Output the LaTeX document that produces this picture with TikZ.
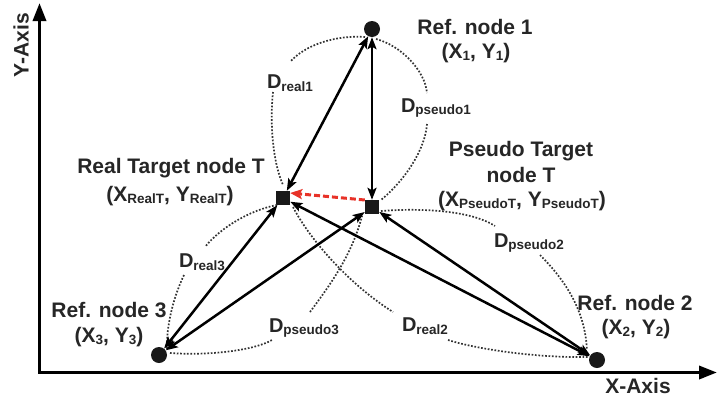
\documentclass[tikz,border=0pt]{standalone}
\usepackage{fontspec}
\setmainfont{Liberation Sans}
\usetikzlibrary{arrows.meta}
\newcommand\lowsub[1]{\raisebox{-2.5pt}{\fontsize{13.5}{14}\selectfont #1}}
\definecolor{arrowred}{RGB}{232,50,40}
\begin{document}
\begin{tikzpicture}[x=1pt,y=-1pt,
 txt/.style={font=\fontsize{21}{24}\selectfont\bfseries, text=black!85, inner sep=0pt, align=center},
 dlab/.style={font=\fontsize{20}{24}\selectfont\bfseries, text=black!85, inner sep=0pt},
 axis/.style={line width=3.5pt, line join=miter, {Triangle[length=18pt,width=13pt]}-{Triangle[length=18pt,width=13pt]}},
 dist/.style={line width=2.5pt, {Stealth[length=12pt,width=9pt,inset=2.5pt]}-{Stealth[length=12pt,width=9pt,inset=2.5pt]}},
 arcd/.style={dash pattern=on 1.7pt off 1.7pt, line width=1.7pt, black!80},
 refdot/.style={circle, fill=black!90, minimum size=16pt, inner sep=0pt},
 tgt/.style={rectangle, fill=black!90, minimum size=14pt, inner sep=0pt},
 pseudoarrow/.style={arrowred, line width=3pt, dash pattern=on 6pt off 3pt, -{Stealth[length=12pt,width=10pt,inset=2.5pt]}},
]
\useasboundingbox (0,0) rectangle (718,397);
\fill[white] (0,0) rectangle (718,397);

% axes
\coordinate (ytop) at (39.5,3);
\coordinate (O) at (39.5,372.5);
\coordinate (xend) at (717,372.5);
\draw[axis] (ytop) -- (O) -- (xend);
\node[txt, rotate=90] (ylab) at (21,45) {Y-Axis};
\node[txt] (xlab) at (638,386) {X-Axis};

% nodes
\node[refdot] (r1) at (372,29) {};
\node[refdot] (r2) at (597,360) {};
\node[refdot] (r3) at (159,355) {};
\node[tgt] (rt) at (283,198) {};
\node[tgt] (pt) at (372,207) {};

% dotted arcs
\draw[arcd] (365,37) .. controls (335,35) and (305,45) .. (290,62);
\draw[arcd] (273,92) .. controls (270,120) and (272,160) .. (283,185);
\draw[arcd] (376,39) .. controls (400,45) and (425,70) .. (427,93);
\draw[arcd] (427,124) .. controls (425,150) and (405,180) .. (381,200);
\draw[arcd] (277,205) .. controls (250,210) and (220,228) .. (205,247);
\draw[arcd] (184,275) .. controls (172,300) and (166,330) .. (167,350);
\draw[arcd] (170,353) .. controls (210,356) and (255,350) .. (272,340);
\draw[arcd] (310,312) .. controls (330,285) and (352,255) .. (362,216);
\draw[arcd] (381,211) .. controls (420,208) and (470,210) .. (495,226);
\draw[arcd] (540,255) .. controls (565,280) and (585,310) .. (587,350);
\draw[arcd] (293,207) .. controls (310,240) and (350,285) .. (393,312);
\draw[arcd] (448,340) .. controls (480,350) and (540,358) .. (588,357);

% distance arrows
\draw[dist] (r1) -- (rt);
\draw[dist] (r1) -- (pt);
\draw[dist] (r3) -- (rt);
\draw[dist] (r3) -- (pt);
\draw[dist] (r2) -- (rt);
\draw[dist] (r2) -- (pt);

% pseudo -> real
\draw[pseudoarrow] ([yshift=7pt]pt.west) -- ([yshift=5pt]rt.east);

% distance labels
\node[dlab] (d1) at (290,83) {D\lowsub{real1}};
\node[dlab] (d2) at (436,108) {D\lowsub{pseudo1}};
\node[dlab] (d3) at (202,262) {D\lowsub{real3}};
\node[dlab] (d4) at (304,328) {D\lowsub{pseudo3}};
\node[dlab] (d5) at (529,243) {D\lowsub{pseudo2}};
\node[dlab] (d6) at (425,326) {D\lowsub{real2}};

% node labels
\node[txt] (l1a) at (475,27) {Ref. node 1};
\node[txt] (l1b) at (476,53) {(X\lowsub{1}, Y\lowsub{1})};
\node[txt] (l2a) at (635,303) {Ref. node 2};
\node[txt] (l2b) at (636,329) {(X\lowsub{2}, Y\lowsub{2})};
\node[txt] (l3a) at (109,310) {Ref. node 3};
\node[txt] (l3b) at (109,337) {(X\lowsub{3}, Y\lowsub{3})};
\node[txt] (lra) at (171,168) {Real Target node T};
\node[txt] (lrb) at (170,196) {(X\lowsub{RealT}, Y\lowsub{RealT})};
\node[txt] (lpa) at (521,151) {Pseudo Target};
\node[txt] (lpb) at (521,175) {node T};
\node[txt] (lpc) at (522,201) {(X\lowsub{PseudoT}, Y\lowsub{PseudoT})};
\end{tikzpicture}
\end{document}
